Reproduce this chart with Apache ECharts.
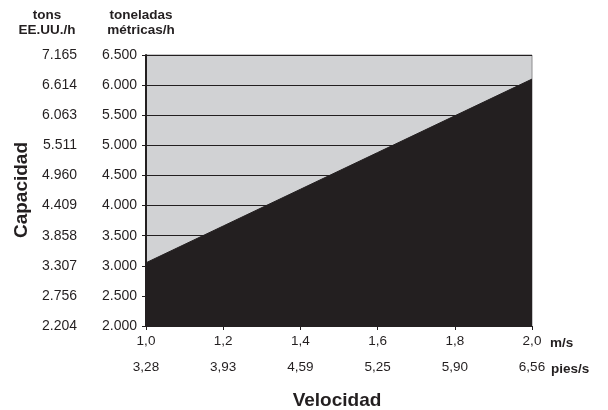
<!DOCTYPE html>
<html><head><meta charset="utf-8">
<script src="https://cdn.jsdelivr.net/npm/echarts@6/dist/echarts.min.js"></script>
<style>html,body{margin:0;padding:0;background:#fff}#c{width:608px;height:410px}</style>
</head><body><div id="c"></div>
<script>
// Data
var speedMs = [1.0, 1.2, 1.4, 1.6, 1.8, 2.0];
var capacityT = [3050, 3660, 4270, 4880, 5490, 6100]; // toneladas métricas/h
var msLabels = ['1,0', '1,2', '1,4', '1,6', '1,8', '2,0'];
var piesLabels = ['3,28', '3,93', '4,59', '5,25', '5,90', '6,56'];
var metricLabels = ['2.000', '2.500', '3.000', '3.500', '4.000', '4.500', '5.000', '5.500', '6.000', '6.500'];
var usTonsLabels = ['2.204', '2.756', '3.307', '3.858', '4.409', '4.960', '5.511', '6.063', '6.614', '7.165'];

var TXT = '#231f20';
var FONT = 'Liberation Sans';

function idxOfX(v) { return Math.round((v - 1.0) / 0.2); }
function idxOfY(v) { return Math.round((v - 2000) / 500); }

var chart = echarts.init(document.getElementById('c'), null, {renderer: 'canvas'});
chart.setOption({
  animation: false,
  grid: {left: 146, right: 76, top: 55, bottom: 84, show: true,
         backgroundColor: '#d1d2d4', borderColor: '#8e8e90', borderWidth: 1},
  xAxis: [{
    type: 'value', min: 1.0, max: 2.0, interval: 0.2, position: 'bottom',
    axisLine: {show: true, lineStyle: {color: TXT, width: 1}},
    axisTick: {show: true, length: 4, lineStyle: {color: TXT}},
    splitLine: {show: false},
    axisLabel: {margin: 8, fontFamily: FONT, fontSize: 13.5, color: TXT,
      formatter: function (v) { return msLabels[idxOfX(v)]; }},
    name: 'm/s', nameLocation: 'end', nameGap: 18,
    nameTextStyle: {fontFamily: FONT, fontWeight: 'bold', fontSize: 13.5, color: TXT,
      verticalAlign: 'top', padding: [10, 0, 0, 0]}
  }, {
    type: 'value', min: 1.0, max: 2.0, interval: 0.2, position: 'bottom', offset: 26,
    axisLine: {show: false}, axisTick: {show: false}, splitLine: {show: false},
    axisLabel: {margin: 8, fontFamily: FONT, fontSize: 13.5, color: TXT,
      formatter: function (v) { return piesLabels[idxOfX(v)]; }},
    name: 'pies/s', nameLocation: 'end', nameGap: 18,
    nameTextStyle: {fontFamily: FONT, fontWeight: 'bold', fontSize: 13.5, color: TXT,
      verticalAlign: 'top', padding: [10, 0, 0, 0]}
  }],
  yAxis: [{
    type: 'value', min: 2000, max: 6500, interval: 500, position: 'left',
    axisLine: {show: true, lineStyle: {color: TXT, width: 2}},
    axisTick: {show: true, length: 4, lineStyle: {color: TXT}},
    splitLine: {show: true, lineStyle: {color: TXT, width: 1}},
    axisLabel: {margin: 9, fontFamily: FONT, fontSize: 14, color: TXT,
      formatter: function (v) { return metricLabels[idxOfY(v)]; }}
  }, {
    type: 'value', min: 2000, max: 6500, interval: 500, position: 'left', offset: 60,
    axisLine: {show: false}, axisTick: {show: false}, splitLine: {show: false},
    axisLabel: {margin: 9, fontFamily: FONT, fontSize: 14, color: TXT,
      formatter: function (v) { return usTonsLabels[idxOfY(v)]; }}
  }],
  graphic: [
    {type: 'text', x: 47, y: 8, style: {text: 'tons\nEE.UU./h', align: 'center', fontFamily: FONT,
      fontWeight: 'bold', fontSize: 13.5, lineHeight: 15, fill: TXT}},
    {type: 'text', x: 141, y: 8, style: {text: 'toneladas\nmétricas/h', align: 'center', fontFamily: FONT,
      fontWeight: 'bold', fontSize: 13.5, lineHeight: 15, fill: TXT}},
    {type: 'text', x: 22, y: 190, rotation: Math.PI / 2, style: {text: 'Capacidad', align: 'center',
      verticalAlign: 'middle', fontFamily: FONT, fontWeight: 'bold', fontSize: 19, fill: TXT}},
    {type: 'text', x: 337, y: 401, style: {text: 'Velocidad', align: 'center',
      verticalAlign: 'middle', fontFamily: FONT, fontWeight: 'bold', fontSize: 19, fill: TXT}}
  ],
  series: [{
    type: 'line', xAxisIndex: 0, yAxisIndex: 0,
    data: speedMs.map(function (s, i) { return [s, capacityT[i]]; }),
    showSymbol: false, symbol: 'none',
    lineStyle: {color: '#231f20', width: 1},
    areaStyle: {color: '#231f20', opacity: 1, origin: 'start'},
    z: 1
  }]
});
</script></body></html>
